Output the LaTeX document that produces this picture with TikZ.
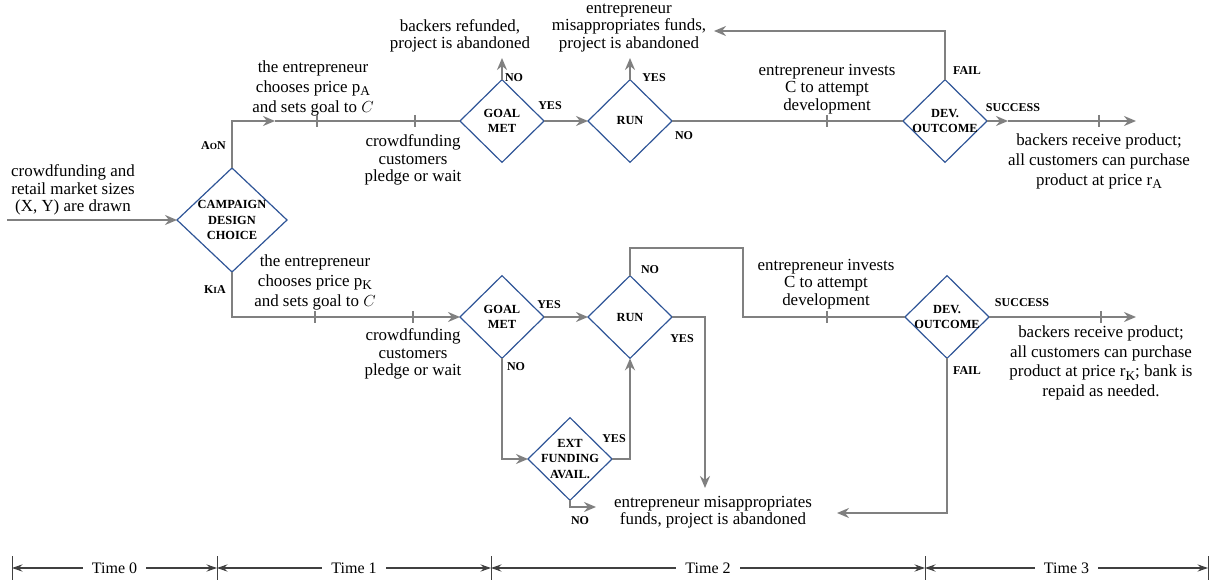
\documentclass[tikz,border=0pt]{standalone}
\usepackage{fontspec}
\setmainfont{Liberation Serif}
\usetikzlibrary{shapes.geometric,arrows.meta}
\definecolor{lgray}{HTML}{808080}
\definecolor{dblue}{HTML}{2F5597}
\definecolor{tgray}{HTML}{404040}
\newcommand{\mysub}[1]{\raisebox{-0.45ex}{\fontsize{10}{10}\selectfont #1}}
\begin{document}
\begin{tikzpicture}[x=0.75pt,y=-0.75pt,
 conn/.style={draw=lgray,line width=1.5pt},
 arr/.style={conn,-{Stealth[length=9pt,width=7.5pt,inset=3pt]}},
 tickmark/.style={draw=lgray,line width=1pt},
 dmd/.style={diamond,draw=dblue,line width=0.9pt,minimum width=63pt,minimum height=62pt,inner sep=0pt,outer sep=0pt},
 dtext/.style={font=\fontsize{9.3}{11.5}\selectfont\bfseries,align=center,inner sep=0pt},
 lab/.style={font=\fontsize{9}{10}\selectfont\bfseries,inner sep=0pt},
 txt/.style={font=\fontsize{12.7}{13.2}\selectfont,align=center,inner sep=0pt},
 tline/.style={draw=tgray,line width=0.8pt,{Stealth[length=8pt,width=5.5pt,inset=3pt]}-{Stealth[length=8pt,width=5.5pt,inset=3pt]}},
 tlab/.style={font=\fontsize{12}{13}\selectfont,fill=white,inner xsep=7pt,inner ysep=1pt},
]
\useasboundingbox (0,0) rectangle (1221,584);

% ---------- diamonds ----------
\node[dmd,minimum width=82.5pt,minimum height=78pt,label={[dtext]center:CAMPAIGN\\DESIGN\\CHOICE}] (cdc) at (232,220) {};
\node[dmd,label={[dtext]center:GOAL\\MET}] (gm1) at (502,121) {};
\node[dmd,label={[dtext]center:RUN}] (run1) at (630,121) {};
\node[dmd,label={[dtext]center:DEV.\\OUTCOME}] (dev1) at (945,121) {};
\node[dmd,label={[dtext]center:GOAL\\MET}] (gm2) at (502,317) {};
\node[dmd,label={[dtext]center:RUN}] (run2) at (630,317) {};
\node[dmd,label={[dtext]center:DEV.\\OUTCOME}] (dev2) at (947,317) {};
\node[dmd,label={[dtext]center:EXT\\FUNDING\\AVAIL.}] (ext) at (570,459) {};

% ---------- texts ----------
\node[txt] (tin) at (73,190) {crowdfunding and\\retail market sizes\\(X, Y) are drawn};
\node[txt,font=\fontsize{12.7}{15}\selectfont] (tchA) at (313,88) {the entrepreneur\\chooses price p\mysub{A}\\and sets goal to $C$};
\node[txt] (tcfA) at (413,160) {crowdfunding\\customers\\pledge or wait};
\node[txt] (trefA) at (460,36) {backers refunded,\\project is abandoned};
\node[txt] (tmisA) at (629,28) {entrepreneur\\misappropriates funds,\\project is abandoned};
\node[txt] (tinvA) at (827,89) {entrepreneur invests\\C to attempt\\development};
\node[txt,font=\fontsize{12.7}{15}\selectfont] (trecA) at (1099,161) {backers receive product;\\all customers can purchase\\product at price r\mysub{A}};
\node[txt,font=\fontsize{12.7}{15}\selectfont] (tchK) at (315,282) {the entrepreneur\\chooses price p\mysub{K}\\and sets goal to $C$};
\node[txt] (tcfK) at (413,354) {crowdfunding\\customers\\pledge or wait};
\node[txt] (tinvK) at (826,284) {entrepreneur invests\\C to attempt\\development};
\node[txt,font=\fontsize{12.7}{14.8}\selectfont] (trecK) at (1101,363) {backers receive product;\\all customers can purchase\\product at price r\mysub{K}; bank is\\repaid as needed.};
\node[txt] (tmisK) at (713,512) {entrepreneur misappropriates\\funds, project is abandoned};

% ---------- branch labels ----------
\node[lab,anchor=east] (laon) at (226,146) {A{\fontsize{7}{8}\selectfont O}N};
\node[lab,anchor=east] (lkia) at (226,290) {K{\fontsize{7}{8}\selectfont I}A};
\node[lab] (l1) at (514,78) {NO};
\node[lab] (l2) at (550,106) {YES};
\node[lab] (l3) at (654,78) {YES};
\node[lab] (l4) at (684,136) {NO};
\node[lab] (l5) at (967,71) {FAIL};
\node[lab] (l6) at (1013,108) {SUCCESS};
\node[lab] (l7) at (549,305) {YES};
\node[lab] (l8) at (516,367) {NO};
\node[lab] (l9) at (650,270) {NO};
\node[lab] (l10) at (682,339) {YES};
\node[lab] (l11) at (614,439) {YES};
\node[lab] (l12) at (580,521) {NO};
\node[lab] (l13) at (1022,303) {SUCCESS};
\node[lab] (l14) at (967,371) {FAIL};

% ---------- coordinates ----------
\coordinate (start) at (7,220);
\coordinate (aonA) at (275,121);
\coordinate (noA) at (502,58);
\coordinate (yesA) at (630,58);
\coordinate (failA) at (714,31);
\coordinate (sucA1) at (1008,121);
\coordinate (sucA2) at (1136,121);
\coordinate (norun2a) at (630,248);
\coordinate (norun2b) at (743,248);
\coordinate (norun2c) at (743,317);
\coordinate (yesrun2a) at (705,317);
\coordinate (yesrun2b) at (705,488);
\coordinate (noext1) at (570,507);
\coordinate (noext2) at (596,507);
\coordinate (sucK) at (1136,317);
\coordinate (failK) at (837,513);

% ---------- connectors ----------
\draw[arr] (start) -- (cdc.west);
\draw[arr] (cdc.north) |- (aonA);
\draw[conn] (aonA) -- (gm1.west);
\draw[arr] (gm1.north) -- (noA);
\draw[arr] (gm1.east) -- (run1.west);
\draw[arr] (run1.north) -- (yesA);
\draw[conn] (run1.east) -- (dev1.west);
\draw[arr] (dev1.north) |- (failA);
\draw[arr] (dev1.east) -- (sucA1);
\draw[arr] (sucA1) -- (sucA2);

\draw[arr] (cdc.south) |- (gm2.west);
\draw[arr] (gm2.east) -- (run2.west);
\draw[conn] (run2.north) -- (norun2a) -- (norun2b) -- (norun2c) -- (dev2.west);
\draw[arr] (run2.east) -- (yesrun2a) -- (yesrun2b);
\draw[arr] (gm2.south) |- (ext.west);
\draw[arr] (ext.east) -| (run2.south);
\draw[arr] (ext.south) -- (noext1) -- (noext2);
\draw[arr] (dev2.east) -- (sucK);
\draw[arr] (dev2.south) |- (failK);

% ---------- ticks ----------
\foreach \x in {317,415,827,1099} \draw[tickmark] (\x,115) -- (\x,127);
\foreach \x in {315,413,827,1101} \draw[tickmark] (\x,311) -- (\x,323);

% ---------- timeline ----------
\coordinate (t0) at (12,568);
\coordinate (t1) at (217,568);
\coordinate (t2) at (491,568);
\coordinate (t3) at (925,568);
\coordinate (t4) at (1208,568);
\foreach \c in {t0,t1,t2,t3,t4} \draw[draw=tgray,line width=0.6pt] ([yshift=9pt]\c) -- ([yshift=-9pt]\c);
\draw[tline] (t0) -- node[tlab] (time0) {Time 0} (t1);
\draw[tline] (t1) -- node[tlab] (time1) {Time 1} (t2);
\draw[tline] (t2) -- node[tlab] (time2) {Time 2} (t3);
\draw[tline] (t3) -- node[tlab] (time3) {Time 3} (t4);
\end{tikzpicture}
\end{document}
